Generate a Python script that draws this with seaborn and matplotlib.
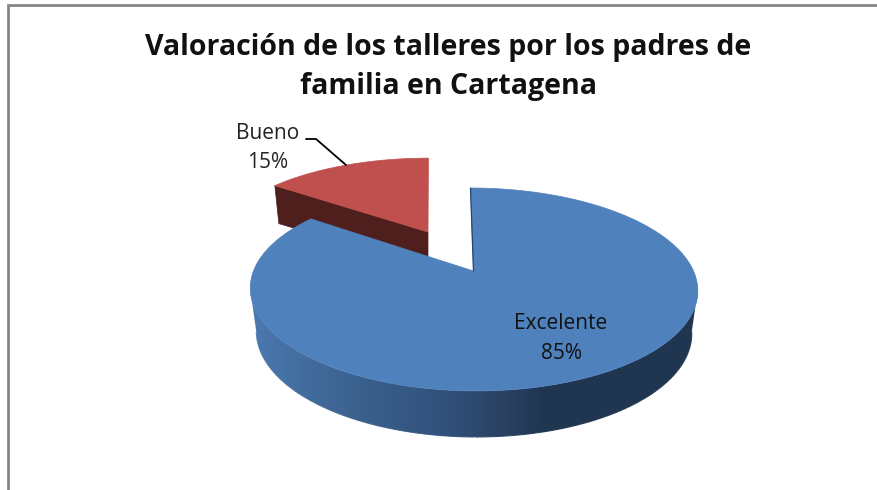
import numpy as np
import seaborn as sns
import matplotlib
matplotlib.use("Agg")
import matplotlib.pyplot as plt
from matplotlib.collections import LineCollection
from matplotlib.colors import LinearSegmentedColormap
from matplotlib.patches import Polygon

title = "Valoración de los talleres por los padres de\nfamilia en Cartagena"
categories = ["Excelente", "Bueno"]
values = [85, 15]

colors_top = ["#4F81BD", "#C0504D"]
color_bueno_side = "#4F1F1D"
blue_side = LinearSegmentedColormap.from_list(
    "blue_side", [(0, "#4A78AE"), (0.32, "#3C628F"), (0.65, "#30507A"),
                  (0.88, "#273D5C"), (0.98, "#1F3550"), (1, "#1F3550")])

sns.set_theme(style="white")
plt.rcParams["font.family"] = ["Open Sans", "DejaVu Sans"]

# pie is flat on a plane seen in perspective, the numbers below are the camera
K = -0.182
A = 98.1
B = 220
SHEAR = 3
CX, CY = 473.5, 271


def project(X, Y):
    den = 1 + K * Y
    return CX + B * X / den + SHEAR * Y, CY + A * Y / den


def rim(t0, t1, n=200):
    t = np.linspace(t0, t1, n)
    return np.sin(t), -np.cos(t)


def lower(x, y, Y):
    # bottom face of the pie, slightly narrower and lower
    return CX + (x - CX) * 0.973, y + 42 + 4 * Y


def exploded(x, y):
    # the pulled out slice sits further back so it looks smaller
    dx, dy = x - CX, y - CY
    return 428 + dx * 0.955 - dy * 0.04, 232 + dy * 0.89


fig = plt.figure(figsize=(8.77, 4.9), dpi=100)
ax = fig.add_axes([0, 0, 1, 1])

# frame of the chart area, only left and top are in the picture
ax.plot([8, 8, 877], [490, 5, 5], color="#868686", lw=2, solid_joinstyle="miter")

angles = np.cumsum([0] + values) / sum(values) * 2 * np.pi

# Bueno
X, Y = rim(angles[1], angles[2])
x, y = exploded(*project(X, Y))
ax_, ay_ = exploded(*project(0.0, 0.0))
# side face towards the viewer
xc, yc = x[0], y[0]
face = [(xc, yc), (ax_, ay_), (ax_, ay_ + 36), (xc + 4, yc + 38)]
ax.add_patch(Polygon(face, closed=True, fc=color_bueno_side, ec=color_bueno_side, lw=0.5))
ax.add_patch(Polygon(np.r_[[[ax_, ay_]], np.c_[x, y]], closed=True,
                     fc=colors_top[1], ec=colors_top[1], lw=0.5))

# Excelente, outer wall first, the gradient runs left to right
t0 = np.arccos(K)
X, Y = rim(t0, 2 * np.pi - t0, 400)
x, y = project(X, Y)
xb, yb = lower(x, y, Y)
wall = Polygon(np.r_[np.c_[x, y], np.c_[xb, yb][::-1]], closed=True, fc="none", ec="none")
ax.add_patch(wall)
grad = blue_side(np.linspace(0, 1, 300))[np.newaxis, :, :]
im = ax.imshow(grad, extent=(255, 555, 490, 0), aspect="auto", interpolation="bilinear", zorder=1)
left = ax.imshow(grad[:, :1], extent=(240, 255, 490, 0), aspect="auto", zorder=1)
right = ax.imshow(grad[:, -1:], extent=(555, 710, 490, 0), aspect="auto", zorder=1)
for image in (im, left, right):
    image.set_clip_path(wall)

# soft edge along the bottom of the wall
pts = np.c_[xb, yb].reshape(-1, 1, 2)
segs = np.concatenate([pts[:-1], pts[1:]], axis=1)
ax.add_collection(LineCollection(segs, colors=blue_side(np.clip((xb[:-1] - 255) / 300, 0, 1)),
                                 linewidths=0.8, zorder=1.5))

X, Y = rim(angles[0], angles[1], 400)
x, y = project(X, Y)
px, py = project(0.0, 0.0)
ax.add_patch(Polygon(np.r_[[[px, py]], np.c_[x, y]], closed=True,
                     fc=colors_top[0], ec=colors_top[0], lw=0.5, zorder=2))
ax.plot([px, x[0]], [py, y[0]], color="#2A4568", lw=0.9, zorder=2.5)

ax.text(448, 67, title, ha="center", va="center", fontsize=20.5, fontweight="bold",
        color="#111111", linespacing=1.48)
ax.text(561, 338.5, f"{categories[0]}\n{values[0]}%", ha="center", va="center",
        fontsize=15, color="#111111", linespacing=1.56, zorder=3)
ax.text(268, 148, f"{categories[1]}\n{values[1]}%", ha="center", va="center",
        fontsize=15, color="#222222", linespacing=1.5)
ax.plot([306, 316, 346], [139, 139, 165], color="black", lw=1.3)

ax.set_xlim(0, 877)
ax.set_ylim(490, 0)
ax.axis("off")

fig.savefig("out.png", dpi=100)
